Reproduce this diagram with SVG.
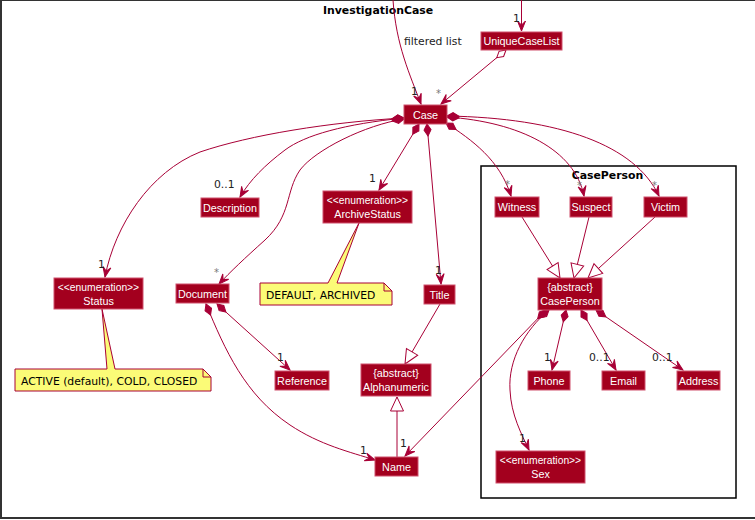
<svg xmlns="http://www.w3.org/2000/svg" width="755" height="520" viewBox="0 0 755 520">
<style>
.n rect{fill:#A3001E;stroke:#D0506C;stroke-width:1}
.n text{font-family:"Liberation Sans",Arial,sans-serif;font-size:10.8px;fill:#FFFFFF;text-anchor:middle}
.n text.st{font-size:10.3px}
.e path{fill:none;stroke:#A80036;stroke-width:1}
.lb{font-family:"DejaVu Sans",sans-serif;font-size:10.8px;fill:#222}
.ast{font-family:"DejaVu Sans",sans-serif;font-size:10px;fill:#777}
.note path.b{fill:#FBFB77;stroke:#A80036;stroke-width:1}
.note path.f{fill:none;stroke:#A80036;stroke-width:1}
.note text{font-family:"DejaVu Sans",sans-serif;font-size:10.8px;fill:#000}
.ttl{font-family:"DejaVu Sans",sans-serif;font-size:10.9px;font-weight:bold;fill:#000;text-anchor:middle}
</style>
<defs>
<marker id="arr" markerUnits="userSpaceOnUse" markerWidth="12" markerHeight="10" refX="10" refY="5" orient="auto" overflow="visible">
<path d="M10,5 L0,1 L4,5 L0,9 Z" fill="#A80036" stroke="#A80036" stroke-width="1"/>
</marker>
<marker id="tri" markerUnits="userSpaceOnUse" markerWidth="16" markerHeight="14" refX="15" refY="7" orient="auto" overflow="visible">
<path d="M15,7 L1,0.5 L1,13.5 Z" fill="#FFFFFF" stroke="#A80036" stroke-width="1"/>
</marker>
<marker id="dia" markerUnits="userSpaceOnUse" markerWidth="13" markerHeight="9" refX="0" refY="4" orient="auto" overflow="visible">
<path d="M0,4 L6,0.5 L12,4 L6,7.5 Z" fill="#A80036" stroke="#A80036" stroke-width="1"/>
</marker>
<marker id="odia" markerUnits="userSpaceOnUse" markerWidth="13" markerHeight="9" refX="0" refY="4" orient="auto" overflow="visible">
<path d="M0,4 L6,0.5 L12,4 L6,7.5 Z" fill="#FFFFFF" stroke="#A80036" stroke-width="1"/>
</marker>
</defs>
<rect x="0" y="0" width="755" height="520" fill="#FFFFFF"/>
<rect id="frame" x="1" y="0" width="800" height="518" fill="none" stroke="#333333" stroke-width="2"/>
<text class="ttl" x="378" y="14" style="font-size:10.9px">InvestigationCase</text>
<g id="pkg-CasePerson">
<rect x="481" y="166" width="255" height="332" fill="none" stroke="#000000" stroke-width="1.5"/>
<text class="ttl" x="607.5" y="179">CasePerson</text>
</g>
<g id="connectors" class="e">
<path d="M393,0 C396,45 410,75 421,104" marker-end="url(#arr)"/>
<path d="M521.5,0 L521.5,31" marker-end="url(#arr)"/>
<path d="M506,50 L441,104" marker-start="url(#odia)" marker-end="url(#arr)"/>
<path d="M404,118 C330,122 250,135 200,152 C150,172 115,225 105,277" marker-start="url(#dia)" marker-end="url(#arr)"/>
<path d="M404,118 C345,124 305,135 285,150 C265,165 250,180 240,197" marker-start="url(#dia)" marker-end="url(#arr)"/>
<path d="M404,119 C365,125 315,150 300,170 C285,192 292,215 265,240 C245,258 230,272 219,284" marker-start="url(#dia)" marker-end="url(#arr)"/>
<path d="M419,124 L379,190" marker-start="url(#dia)" marker-end="url(#arr)"/>
<path d="M427,124 L441,284" marker-start="url(#dia)" marker-end="url(#arr)"/>
<path d="M446,123 C472,140 500,160 511,196" marker-start="url(#dia)" marker-end="url(#arr)"/>
<path d="M447,117 C520,122 575,150 584,196" marker-start="url(#dia)" marker-end="url(#arr)"/>
<path d="M447,116 C560,118 635,145 659,196" marker-start="url(#dia)" marker-end="url(#arr)"/>
<path d="M522,217 L560,278" marker-end="url(#tri)"/>
<path d="M589,217 L574,278" marker-end="url(#tri)"/>
<path d="M655,217 L588,278" marker-end="url(#tri)"/>
<path d="M440,304 L405,364" marker-end="url(#tri)"/>
<path d="M397,457 L397,397" marker-end="url(#tri)"/>
<path d="M217,304 L290,370" marker-start="url(#dia)" marker-end="url(#arr)"/>
<path d="M206,304 C225,350 245,395 290,425 C320,445 350,452 375,460" marker-start="url(#dia)" marker-end="url(#arr)"/>
<path d="M546,310 L405,456" marker-start="url(#dia)" marker-end="url(#arr)"/>
<path d="M549,310 C525,330 508,360 510,390 C511,415 522,435 529,450" marker-start="url(#dia)" marker-end="url(#arr)"/>
<path d="M566,310 L552,370" marker-start="url(#dia)" marker-end="url(#arr)"/>
<path d="M581,310 L616,370" marker-start="url(#dia)" marker-end="url(#arr)"/>
<path d="M596,310 L683,370" marker-start="url(#dia)" marker-end="url(#arr)"/>
</g>
<g id="labels">
<text class="lb" x="404" y="45">filtered list</text>
<text class="lb" x="513" y="22">1</text>
<text class="lb" x="411" y="95">1</text>
<text class="ast" x="436" y="97">*</text>
<text class="lb" x="214" y="188">0..1</text>
<text class="lb" x="98" y="268">1</text>
<text class="ast" x="214" y="276">*</text>
<text class="lb" x="369" y="182">1</text>
<text class="lb" x="435" y="274">1</text>
<text class="ast" x="505" y="188">*</text>
<text class="ast" x="577" y="189">*</text>
<text class="ast" x="652" y="189">*</text>
<text class="lb" x="277" y="361">1</text>
<text class="lb" x="360" y="454">1</text>
<text class="lb" x="400" y="447">1</text>
<text class="lb" x="544" y="361">1</text>
<text class="lb" x="589" y="361">0..1</text>
<text class="lb" x="652" y="361">0..1</text>
<text class="lb" x="519" y="442">1</text>
</g>
<g id="note-status" class="note">
<path class="b" d="M15,369 L107,369 L102,309 L115,369 L203,369 L211,377 L211,391 L15,391 Z"/>
<path class="f" d="M203,369 L203,377 L211,377"/>
<text x="21" y="385">ACTIVE (default), COLD, CLOSED</text>
</g>
<g id="note-archive" class="note">
<path class="b" d="M260,283 L328,283 L359,223 L337,283 L384,283 L392,291 L392,305 L260,305 Z"/>
<path class="f" d="M384,283 L384,291 L392,291"/>
<text x="266" y="298.5">DEFAULT, ARCHIVED</text>
</g>
<g id="UniqueCaseList" class="n"><rect x="481" y="32" width="81" height="18"/><text x="521.5" y="45">UniqueCaseList</text></g>
<g id="Case" class="n"><rect x="404" y="105" width="43" height="19"/><text x="425.5" y="118.5">Case</text></g>
<g id="Description" class="n"><rect x="201" y="198" width="58" height="19"/><text x="230" y="211.5">Description</text></g>
<g id="ArchiveStatus" class="n"><rect x="323" y="191" width="89" height="32"/><text class="st" x="367.5" y="204">&lt;&lt;enumeration&gt;&gt;</text><text x="367.5" y="217.5">ArchiveStatus</text></g>
<g id="Status" class="n"><rect x="54" y="278" width="89" height="31"/><text class="st" x="98.5" y="291">&lt;&lt;enumeration&gt;&gt;</text><text x="98.5" y="304.5">Status</text></g>
<g id="Document" class="n"><rect x="176" y="284" width="53" height="19"/><text x="202.5" y="297.5">Document</text></g>
<g id="Title" class="n"><rect x="424" y="285" width="31" height="19"/><text x="439.5" y="298.5">Title</text></g>
<g id="Reference" class="n"><rect x="275" y="371" width="54" height="19"/><text x="302" y="384.5">Reference</text></g>
<g id="Alphanumeric" class="n"><rect x="361" y="364" width="70" height="32"/><text x="396" y="377">{abstract}</text><text x="396" y="390.5">Alphanumeric</text></g>
<g id="Name" class="n"><rect x="375" y="457" width="43" height="19"/><text x="396.5" y="470.5">Name</text></g>
<g id="Witness" class="n"><rect x="495" y="197" width="44" height="20"/><text x="517" y="211">Witness</text></g>
<g id="Suspect" class="n"><rect x="570" y="197" width="42" height="20"/><text x="591" y="211">Suspect</text></g>
<g id="Victim" class="n"><rect x="644" y="197" width="43" height="20"/><text x="665.5" y="211">Victim</text></g>
<g id="CasePersonNode" class="n"><rect x="538" y="278" width="64" height="32"/><text x="570" y="291">{abstract}</text><text x="570" y="304.5">CasePerson</text></g>
<g id="Phone" class="n"><rect x="528" y="371" width="42" height="19"/><text x="549" y="384.5">Phone</text></g>
<g id="Email" class="n"><rect x="602" y="371" width="43" height="19"/><text x="623.5" y="384.5">Email</text></g>
<g id="Address" class="n"><rect x="677" y="371" width="43" height="19"/><text x="698.5" y="384.5">Address</text></g>
<g id="Sex" class="n"><rect x="496" y="451" width="89" height="32"/><text class="st" x="540.5" y="464">&lt;&lt;enumeration&gt;&gt;</text><text x="540.5" y="477.5">Sex</text></g>
</svg>
